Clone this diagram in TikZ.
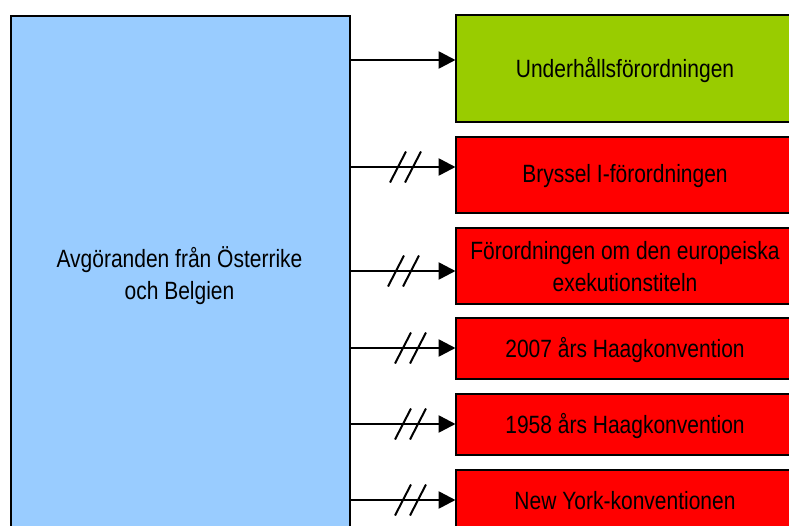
\documentclass[tikz,border=0pt]{standalone}
\usepackage{fontspec}
\setmainfont{Liberation Sans}[FakeStretch=0.84]
\usetikzlibrary{arrows.meta,calc}

\definecolor{srcblue}{HTML}{99CCFF}
\definecolor{okgreen}{HTML}{99CC00}
\definecolor{badred}{HTML}{FF0000}

\tikzset{
  box/.style={draw=black, line width=1.6pt, inner sep=0pt, align=center,
    font=\fontsize{25}{32.5}\selectfont, text=black},
  rbox/.style={box, fill=badred},
  conn/.style={line width=2.6pt, -{Triangle[length=17pt,width=17pt]}, shorten >=-0.5pt},
  slash/.style={line width=2pt},
  pics/dslash/.style={code={
    \draw[slash] (-8,15.5) -- (8,-15.5);
    \draw[slash] (7,15.5) -- (23,-15.5);
  }}
}

\begin{document}
\begin{tikzpicture}[x=1pt,y=-1pt]
  \clip (0,0) rectangle (789,525);
  \fill[white] (0,0) rectangle (789,525);

  % source box on the left
  \node[box, fill=srcblue, minimum width=339pt, minimum height=515pt, anchor=north west]
    (L) at (10,15) {};
  \node[box, draw=none, fill=none] (Ltext) at (179.5,275.5)
    {Avgöranden från Österrike\\och Belgien};

  % target boxes on the right
  \node[box, fill=okgreen, minimum width=340pt, minimum height=107pt, anchor=north west]
    (G) at (455,14) {};
  \node[box, draw=none] at (625,70.5) {Underhållsförordningen};

  \node[rbox, minimum width=340pt, minimum height=76pt, anchor=north west]
    (R1) at (455,136) {};
  \node[box, draw=none] at (625,176.5) {Bryssel I-förordningen};

  \node[rbox, minimum width=340pt, minimum height=76pt, anchor=north west]
    (R2) at (455,227) {};
  \node[box, draw=none] at (625,266.5) {Förordningen om den europeiska\\exekutionstiteln};

  \node[rbox, minimum width=340pt, minimum height=61pt, anchor=north west]
    (R3) at (455,317) {};
  \node[box, draw=none] at (625,350) {2007 års Haagkonvention};

  \node[rbox, minimum width=340pt, minimum height=61pt, anchor=north west]
    (R4) at (455,393) {};
  \node[box, draw=none] at (625,426) {1958 års Haagkonvention};

  \node[rbox, minimum width=340pt, minimum height=70pt, anchor=north west]
    (R5) at (455,469) {};
  \node[box, draw=none] at (625,501) {New York-konventionen};

  % arrow tips on the target boxes
  \coordinate (t0) at (G.west |- 0,60);
  \coordinate (t1) at (R1.west |- 0,167);
  \coordinate (t2) at (R2.west |- 0,271);
  \coordinate (t3) at (R3.west |- 0,348);
  \coordinate (t4) at (R4.west |- 0,424);
  \coordinate (t5) at (R5.west |- 0,500);

  \draw[conn] (L.east |- t0) -- (t0);
  \draw[conn] (L.east |- t1) -- (t1);
  \draw[conn] (L.east |- t2) -- (t2);
  \draw[conn] (L.east |- t3) -- (t3);
  \draw[conn] (L.east |- t4) -- (t4);
  \draw[conn] (L.east |- t5) -- (t5);

  % interrupted links
  \pic at ($(t1)+(-57,0)$) {dslash};
  \pic at ($(t2)+(-59,0)$) {dslash};
  \pic at ($(t3)+(-52,0)$) {dslash};
  \pic at ($(t4)+(-52,0)$) {dslash};
  \pic at ($(t5)+(-52,0)$) {dslash};
\end{tikzpicture}
\end{document}
